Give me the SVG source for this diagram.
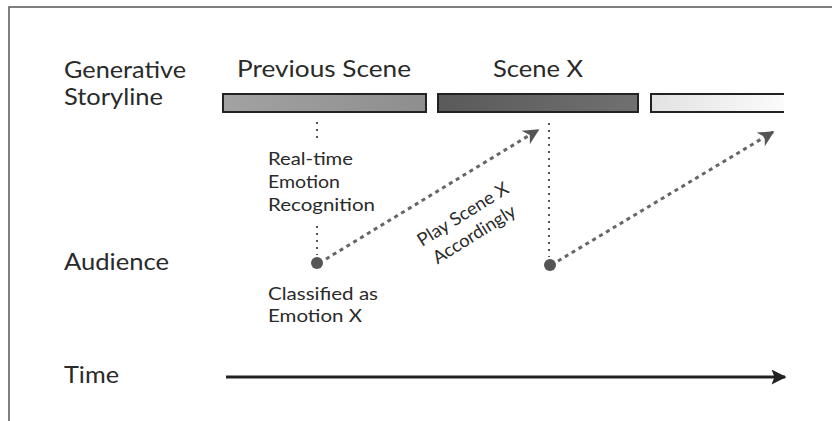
<svg xmlns="http://www.w3.org/2000/svg" width="832" height="421" viewBox="0 0 832 421">
  <defs>
    <linearGradient id="gPrev" x1="0" y1="0" x2="1" y2="0">
      <stop offset="0" stop-color="#a2a2a2"/>
      <stop offset="1" stop-color="#8e8e8e"/>
    </linearGradient>
    <linearGradient id="gScene" x1="0" y1="0" x2="1" y2="0">
      <stop offset="0" stop-color="#5a5a5a"/>
      <stop offset="1" stop-color="#707070"/>
    </linearGradient>
    <linearGradient id="gNext" x1="0" y1="0" x2="1" y2="0">
      <stop offset="0" stop-color="#e2e2e2"/>
      <stop offset="1" stop-color="#fbfbfb"/>
    </linearGradient>
    <marker id="headDash" viewBox="0 0 10 10" refX="9" refY="5" markerWidth="20" markerHeight="16" orient="auto" markerUnits="userSpaceOnUse">
      <path d="M0,0 L10,5 L0,10 L3,5 Z" fill="#555"/>
    </marker>
    <marker id="headTime" viewBox="0 0 10 10" refX="9" refY="5" markerWidth="28" markerHeight="15" orient="auto" markerUnits="userSpaceOnUse">
      <path d="M0,0 L10,5 L0,10 L2,5 Z" fill="#222"/>
    </marker>
  </defs>
  <style>
    .lbl { font-family: Lato, "Open Sans", sans-serif; fill: #2a2a2a; }
    .big { font-size: 23px; }
    .small { font-size: 18px; }
    .bar { stroke: #222; stroke-width: 2; }
    .vdot { stroke: #555; stroke-width: 2; stroke-dasharray: 2 5; fill: none; }
    .ddash { stroke: #666; stroke-width: 3; stroke-dasharray: 4 4; fill: none; }
  </style>

  <!-- frame -->
  <path d="M9,421 V7 H832" fill="none" stroke="#555" stroke-width="1.5"/>

  <!-- row labels -->
  <g id="row-labels">
    <text class="lbl big" x="64" y="78" textLength="122" lengthAdjust="spacingAndGlyphs">Generative</text>
    <text class="lbl big" x="64" y="105" textLength="99" lengthAdjust="spacingAndGlyphs">Storyline</text>
    <text class="lbl big" x="64" y="270" textLength="105" lengthAdjust="spacingAndGlyphs">Audience</text>
    <text class="lbl big" x="64" y="383" textLength="55" lengthAdjust="spacingAndGlyphs">Time</text>
  </g>

  <!-- storyline scenes -->
  <g id="scene-previous">
    <rect class="bar" x="223" y="94" width="203" height="18" fill="url(#gPrev)"/>
    <text class="lbl big" x="237" y="77" textLength="174" lengthAdjust="spacingAndGlyphs">Previous Scene</text>
  </g>
  <g id="scene-x">
    <rect class="bar" x="438" y="94" width="200" height="18" fill="url(#gScene)"/>
    <text class="lbl big" x="493" y="77" textLength="90" lengthAdjust="spacingAndGlyphs">Scene X</text>
  </g>
  <g id="scene-next">
    <rect x="651" y="94" width="133" height="18" fill="url(#gNext)"/>
    <path class="bar" d="M784,94 H651 V112 H784" fill="none"/>
  </g>

  <!-- audience events -->
  <g id="audience-1">
    <circle cx="317" cy="263" r="6" fill="#555"/>
    <text class="lbl small" x="268" y="300" textLength="110" lengthAdjust="spacingAndGlyphs">Classified as</text>
    <text class="lbl small" x="268" y="322" textLength="94" lengthAdjust="spacingAndGlyphs">Emotion X</text>
  </g>
  <g id="audience-2">
    <circle cx="550" cy="265" r="6" fill="#555"/>
  </g>

  <!-- connectors -->
  <g id="connectors">
    <line class="vdot" x1="317" y1="122" x2="317" y2="140"/>
    <line class="vdot" x1="317" y1="226" x2="317" y2="255"/>
    <line class="vdot" x1="549" y1="123" x2="549" y2="257"/>
    <line class="ddash" x1="326" y1="259" x2="538" y2="130" marker-end="url(#headDash)"/>
    <line class="ddash" x1="558" y1="261" x2="773" y2="132" marker-end="url(#headDash)"/>
    <line x1="226" y1="377" x2="785" y2="377" stroke="#222" stroke-width="3" marker-end="url(#headTime)"/>
  </g>

  <!-- annotations -->
  <g id="recognition-note">
    <text class="lbl small" x="268" y="165" textLength="85" lengthAdjust="spacingAndGlyphs">Real-time</text>
    <text class="lbl small" x="268" y="188" textLength="72" lengthAdjust="spacingAndGlyphs">Emotion</text>
    <text class="lbl small" x="268" y="211" textLength="107" lengthAdjust="spacingAndGlyphs">Recognition</text>
  </g>
  <g id="play-note" transform="translate(422,247) rotate(-32)">
    <text class="lbl small" x="0" y="0" textLength="104" lengthAdjust="spacingAndGlyphs">Play Scene X</text>
    <text class="lbl small" x="4" y="23" textLength="94" lengthAdjust="spacingAndGlyphs">Accordingly</text>
  </g>
</svg>
